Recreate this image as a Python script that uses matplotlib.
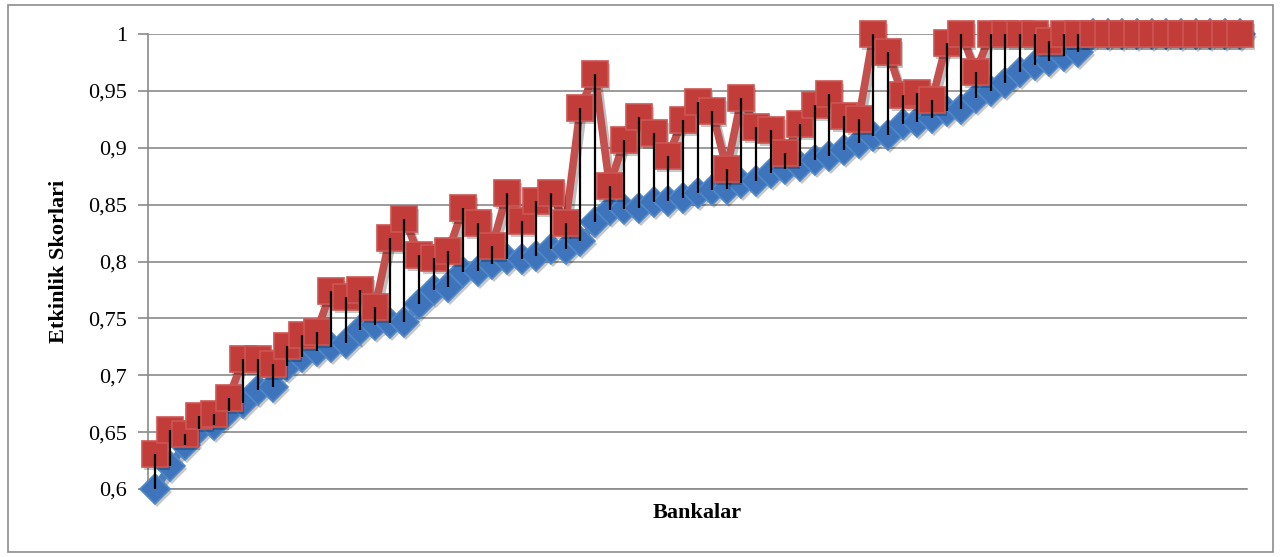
import numpy as np
import matplotlib
matplotlib.use("Agg")
import matplotlib.pyplot as plt
import matplotlib.patheffects as pe
from matplotlib.ticker import FuncFormatter, MultipleLocator
from matplotlib.patches import Rectangle
from matplotlib.transforms import offset_copy

# efficiency scores per bank (sorted by the lower score)
low = [0.600, 0.620, 0.639, 0.653, 0.656, 0.669, 0.676, 0.687, 0.690, 0.708,
       0.716, 0.721, 0.725, 0.728, 0.740, 0.744, 0.746, 0.747, 0.763, 0.775,
       0.778, 0.791, 0.792, 0.798, 0.802, 0.802, 0.805, 0.811, 0.811, 0.818,
       0.835, 0.845, 0.846, 0.847, 0.852, 0.853, 0.856, 0.860, 0.863, 0.864,
       0.869, 0.871, 0.878, 0.881, 0.884, 0.889, 0.893, 0.898, 0.904, 0.910,
       0.911, 0.921, 0.923, 0.926, 0.932, 0.934, 0.944, 0.950, 0.957, 0.967,
       0.973, 0.976, 0.981, 0.984, 1.0, 1.0, 1.0, 1.0, 1.0, 1.0,
       1.0, 1.0, 1.0, 1.0, 1.0]
high = [0.631, 0.652, 0.648, 0.664, 0.666, 0.680, 0.714, 0.714, 0.710, 0.726,
        0.735, 0.738, 0.774, 0.769, 0.775, 0.760, 0.821, 0.837, 0.806, 0.803,
        0.809, 0.847, 0.834, 0.814, 0.860, 0.836, 0.853, 0.860, 0.834, 0.935,
        0.965, 0.866, 0.907, 0.927, 0.913, 0.893, 0.924, 0.940, 0.932, 0.881,
        0.944, 0.918, 0.916, 0.895, 0.921, 0.938, 0.947, 0.928, 0.925, 1.0,
        0.984, 0.946, 0.948, 0.942, 0.992, 1.0, 0.967, 1.0, 1.0, 1.0,
        1.0, 0.994, 1.0, 1.0, 1.0, 1.0, 1.0, 1.0, 1.0, 1.0,
        1.0, 1.0, 1.0, 1.0, 1.0]

n = len(low)
x = np.arange(n)

W, H = 1283, 557
fig = plt.figure(figsize=(W / 100, H / 100), dpi=100)
fig.patches.append(Rectangle((8 / W, 5 / H), 1265 / W, 547 / H, transform=fig.transFigure,
                             fill=False, edgecolor="#8c8c8c", linewidth=1.2))

ax = fig.add_axes([148 / W, 1 - 489 / H, (1247 - 148) / W, (489 - 34) / H])
shifted = offset_copy(ax.transData, fig=fig, x=2, y=-3, units="dots")
line_fx = [pe.SimpleLineShadow(offset=(2, -3), alpha=0.25), pe.Normal()]


def series(y, line_col, mk, ms, face, edge, z):
    ax.plot(x, y, color=line_col, linewidth=5.5, zorder=z,
            solid_joinstyle="miter", path_effects=line_fx)
    # soft drop shadow under the markers
    ax.plot(x, y, linestyle="none", marker=mk, markersize=ms, color="black",
            alpha=0.22, markeredgewidth=0, transform=shifted, zorder=z, clip_on=False)
    ax.plot(x, y, linestyle="none", marker=mk, markersize=ms,
            markerfacecolor=face, markeredgecolor=edge, markeredgewidth=1.2,
            zorder=z + 0.5, clip_on=False)


series(low, "#4A7EBB", "D", 15.5, "#3D74BC", "#5088C8", 3)
series(high, "#C4504D", "s", 19, "#C23C39", "#CC5653", 4)
ax.vlines(x, low, high, color="black", linewidth=1.6, zorder=6)

ax.set_xlim(-0.5, n - 0.5)
ax.set_ylim(0.6, 1.0)
ax.yaxis.set_major_locator(MultipleLocator(0.05))
ax.yaxis.set_major_formatter(FuncFormatter(lambda v, p: f"{v:.2f}".rstrip("0").rstrip(".").replace(".", ",")))
ax.grid(axis="y", color="#8a8a8a", linewidth=1.2)
ax.set_axisbelow(True)
ax.set_xticks([])

for s in ["top", "right"]:
    ax.spines[s].set_visible(False)
for s in ["left", "bottom"]:
    ax.spines[s].set_color("#8a8a8a")
    ax.spines[s].set_linewidth(1.2)
ax.tick_params(axis="y", length=7, color="#8a8a8a", width=1.2, pad=8,
               labelsize=16, labelfontfamily="Liberation Serif")

ax.set_ylabel("Etkinlik Skorlari", fontsize=16, fontweight="bold",
              family="Liberation Serif", labelpad=14)
ax.set_xlabel("Bankalar", fontsize=16, fontweight="bold",
              family="Liberation Serif", labelpad=10)

fig.savefig("out.png", dpi=100)
